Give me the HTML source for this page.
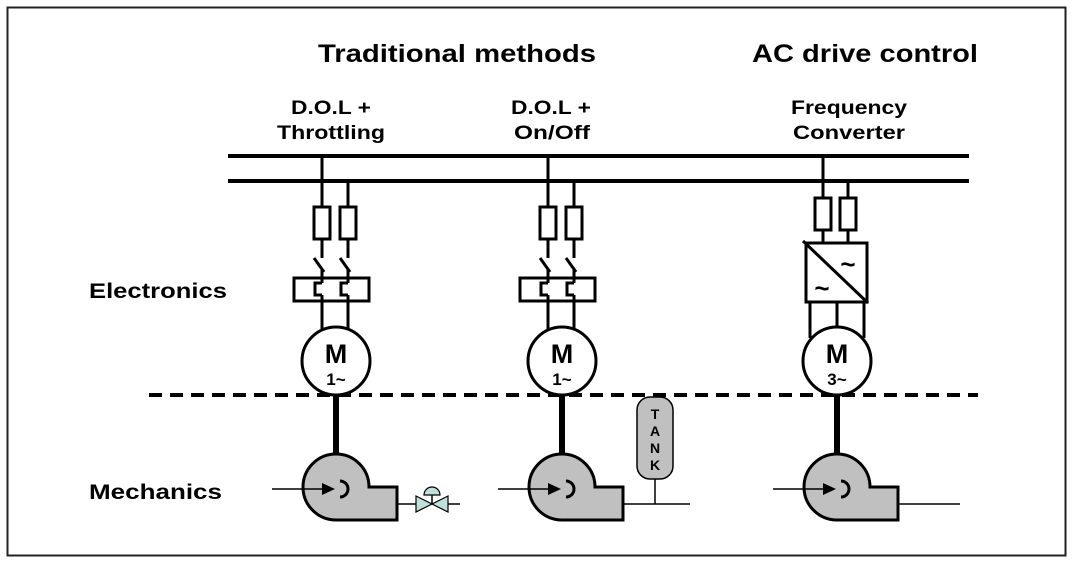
<!DOCTYPE html>
<html><head><meta charset="utf-8"><style>
html,body{margin:0;padding:0;background:#fff;}
svg{display:block;}
text{font-family:"Liberation Sans",Arial,sans-serif;font-weight:bold;fill:#000;}
</style></head><body>
<svg width="1073" height="565" viewBox="0 0 1073 565" xmlns="http://www.w3.org/2000/svg">
<rect x="7.5" y="7.5" width="1058" height="548" fill="none" stroke="#222" stroke-width="2"/>
<text x="318" y="62" font-size="25" textLength="278" lengthAdjust="spacingAndGlyphs">Traditional methods</text>
<text x="752" y="62" font-size="25" textLength="226" lengthAdjust="spacingAndGlyphs">AC drive control</text>
<text x="291" y="114" font-size="19" textLength="80" lengthAdjust="spacingAndGlyphs">D.O.L +</text>
<text x="277" y="139" font-size="19" textLength="108" lengthAdjust="spacingAndGlyphs">Throttling</text>
<text x="511" y="114" font-size="19" textLength="80" lengthAdjust="spacingAndGlyphs">D.O.L +</text>
<text x="514" y="139" font-size="19" textLength="76" lengthAdjust="spacingAndGlyphs">On/Off</text>
<text x="791" y="114" font-size="19" textLength="116" lengthAdjust="spacingAndGlyphs">Frequency</text>
<text x="793" y="139" font-size="19" textLength="112" lengthAdjust="spacingAndGlyphs">Converter</text>
<text x="89" y="298" font-size="21" textLength="138" lengthAdjust="spacingAndGlyphs">Electronics</text>
<text x="89" y="499" font-size="21" textLength="133" lengthAdjust="spacingAndGlyphs">Mechanics</text>

<g stroke="#000" stroke-width="4" fill="none">
<line x1="228" y1="156" x2="969" y2="156"/>
<line x1="228" y1="181" x2="969" y2="181"/>
<line x1="149" y1="395" x2="978" y2="395" stroke-dasharray="13,8"/>
</g>

<g id="dol1" stroke="#000" stroke-width="3" fill="none">
<line x1="322" y1="156" x2="322" y2="206"/>
<line x1="348" y1="181" x2="348" y2="206"/>
<rect x="314" y="207" width="16" height="32" fill="#fff"/>
<rect x="340" y="207" width="16" height="32" fill="#fff"/>
<line x1="322" y1="239" x2="322" y2="258"/>
<line x1="348" y1="239" x2="348" y2="258"/>
<line x1="314" y1="258" x2="324" y2="272"/>
<line x1="340" y1="258" x2="350" y2="272"/>
<line x1="322" y1="270" x2="322" y2="283"/>
<line x1="348" y1="270" x2="348" y2="283"/>
<rect x="294" y="278" width="75" height="23"/>
<path d="M322,283 H315 V295 H322"/>
<path d="M348,283 H341 V295 H348"/>
<line x1="322" y1="295" x2="322" y2="330"/>
<line x1="348" y1="295" x2="348" y2="330"/>
<circle cx="336" cy="361" r="34" fill="#fff"/>
<line x1="336" y1="395" x2="336" y2="456" stroke-width="6"/>
</g>
<g transform="translate(226,0)"><use href="#dol1"/></g>

<g stroke="#000" stroke-width="3" fill="none">
<line x1="823" y1="156" x2="823" y2="198"/>
<line x1="848" y1="181" x2="848" y2="198"/>
<rect x="815" y="198" width="16" height="32" fill="#fff"/>
<rect x="840" y="198" width="16" height="32" fill="#fff"/>
<line x1="823" y1="230" x2="823" y2="243"/>
<line x1="848" y1="230" x2="848" y2="243"/>
<rect x="806" y="243" width="61" height="59" fill="#fff"/>
<line x1="803" y1="241" x2="868" y2="303"/>
<line x1="810" y1="302" x2="810" y2="338"/>
<line x1="837" y1="302" x2="837" y2="326"/>
<line x1="864" y1="302" x2="864" y2="338"/>
<circle cx="837" cy="361" r="34" fill="#fff"/>
<line x1="837" y1="395" x2="837" y2="456" stroke-width="6"/>
</g>
<text x="848" y="273" font-size="26" font-weight="normal" text-anchor="middle">~</text>
<text x="822" y="297" font-size="26" font-weight="normal" text-anchor="middle">~</text>

<text x="336" y="363" font-size="27" text-anchor="middle">M</text>
<text x="336" y="385" font-size="17" text-anchor="middle">1~</text>
<text x="562" y="363" font-size="27" text-anchor="middle">M</text>
<text x="562" y="385" font-size="17" text-anchor="middle">1~</text>
<text x="837" y="363" font-size="27" text-anchor="middle">M</text>
<text x="837" y="385" font-size="17" text-anchor="middle">3~</text>

<g id="pump">
<path d="M336,454 A33,33 0 0 1 369,487 L397,487 L397,520 L336,520 A33,33 0 0 1 336,454 Z" fill="#c0c0c0" stroke="#000" stroke-width="3"/>
<line x1="272" y1="489" x2="325" y2="489" stroke="#000" stroke-width="1.5"/>
<polygon points="322,483 335,489 322,495" fill="#000"/>
<path d="M340,481 A8,8 0 0 1 340,497" fill="none" stroke="#000" stroke-width="3"/>
</g>
<g transform="translate(226,0)"><use href="#pump"/></g>
<g transform="translate(501,0)"><use href="#pump"/></g>

<g stroke="#000" stroke-width="1.5" fill="none">
<line x1="397" y1="504" x2="460" y2="504"/>
<line x1="623" y1="504" x2="690" y2="504"/>
<line x1="655" y1="478" x2="655" y2="504"/>
<line x1="898" y1="504" x2="960" y2="504"/>
<line x1="432" y1="504" x2="432" y2="495"/>
</g>
<polygon points="416,496 432,504 416,512" fill="#bfe0d8" stroke="#000" stroke-width="1.2"/>
<polygon points="448,496 432,504 448,512" fill="#bfe0d8" stroke="#000" stroke-width="1.2"/>
<path d="M424,495 A8,8 0 0 1 440,495 Z" fill="#bfe0d8" stroke="#000" stroke-width="1.2"/>

<rect x="637" y="397" width="36" height="82" rx="13" fill="#c0c0c0" stroke="#000" stroke-width="1.5"/>
<text x="655" y="419" font-size="14" text-anchor="middle">T</text>
<text x="655" y="436" font-size="14" text-anchor="middle">A</text>
<text x="655" y="453" font-size="14" text-anchor="middle">N</text>
<text x="655" y="470" font-size="14" text-anchor="middle">K</text>
</svg>
</body></html>
